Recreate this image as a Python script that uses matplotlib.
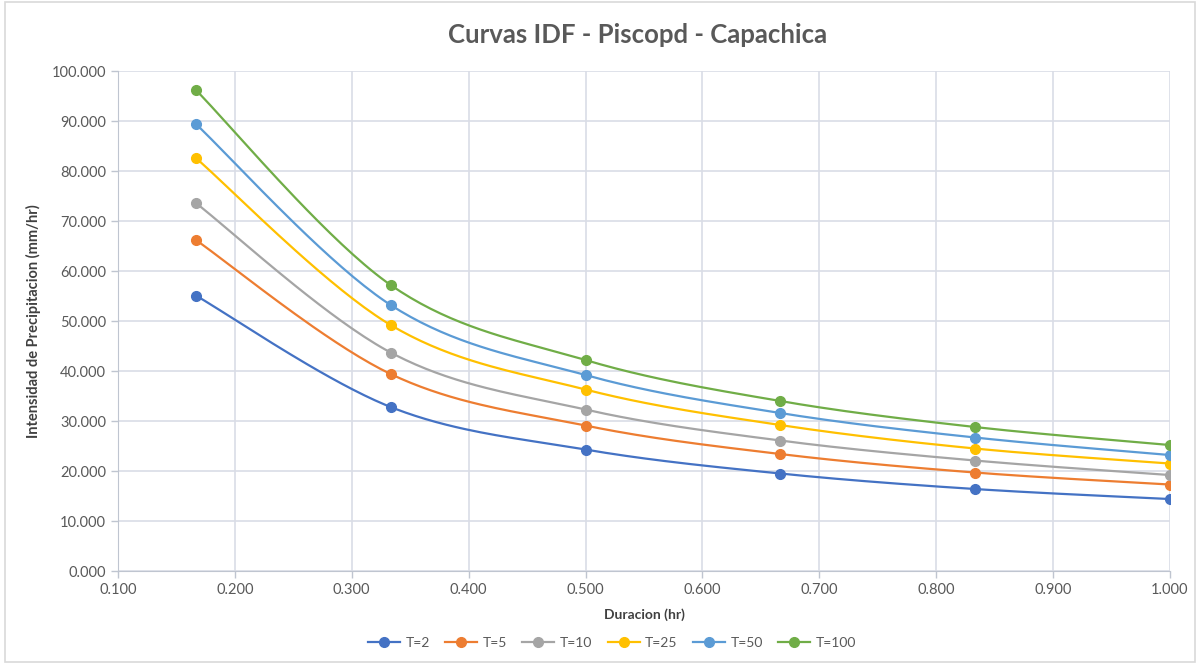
import numpy as np
import matplotlib
matplotlib.use("Agg")
import matplotlib.pyplot as plt
from matplotlib.patches import Rectangle
from matplotlib.ticker import FormatStrFormatter

plt.rcParams['font.family'] = ['Lato', 'DejaVu Sans']

# duration (hr) and intensity (mm/hr) per return period
duracion = [1/6, 2/6, 3/6, 4/6, 5/6, 1.0]
periodos = ["T=2", "T=5", "T=10", "T=25", "T=50", "T=100"]
t2 = [55.1, 32.8, 24.3, 19.5, 16.4, 14.4]
t5 = [66.2, 39.4, 29.1, 23.4, 19.7, 17.3]
t10 = [73.6, 43.7, 32.3, 26.1, 22.1, 19.2]
t25 = [82.6, 49.2, 36.3, 29.2, 24.5, 21.5]
t50 = [89.4, 53.2, 39.2, 31.6, 26.7, 23.2]
t100 = [96.2, 57.2, 42.2, 34.0, 28.8, 25.2]
series = [t2, t5, t10, t25, t50, t100]
colores = ["#4472C4", "#ED7D31", "#A5A5A5", "#FFC000", "#5B9BD5", "#70AD47"]


def smooth(x, y, n=40):
    # excel-like smoothed line: cubic bezier with catmull-rom control points
    x = np.asarray(x, float)
    y = np.asarray(y, float)
    px = np.concatenate([[x[0]], x, [x[-1]]])
    py = np.concatenate([[y[0]], y, [y[-1]]])
    xs, ys = [], []
    t = np.linspace(0, 1, n)
    for i in range(1, len(px) - 2):
        p0 = np.array([px[i], py[i]])
        p3 = np.array([px[i + 1], py[i + 1]])
        p1 = p0 + (np.array([px[i + 1], py[i + 1]]) - np.array([px[i - 1], py[i - 1]])) / 6
        p2 = p3 - (np.array([px[i + 2], py[i + 2]]) - np.array([px[i], py[i]])) / 6
        b = ((1 - t) ** 3)[:, None] * p0 + (3 * (1 - t) ** 2 * t)[:, None] * p1 \
            + (3 * (1 - t) * t ** 2)[:, None] * p2 + (t ** 3)[:, None] * p3
        xs.extend(b[:, 0])
        ys.extend(b[:, 1])
    return xs, ys


fig = plt.figure(figsize=(12, 6.64), dpi=100)
ax = fig.add_axes([0.0983, 0.140, 0.8767, 0.753])

for nombre, vals, c in zip(periodos, series, colores):
    sx, sy = smooth(duracion, vals)
    ax.plot(sx, sy, color=c, lw=1.6, zorder=3)
    ax.plot(duracion, vals, 'o', color=c, ms=7, zorder=4)
    ax.plot([], [], '-o', color=c, lw=1.6, ms=7, label=nombre)

ax.set_xlim(0.1, 1.0)
ax.set_ylim(0, 100)
ax.set_xticks(np.arange(0.1, 1.0001, 0.1))
ax.set_yticks(np.arange(0, 100.1, 10))
ax.xaxis.set_major_formatter(FormatStrFormatter('%.3f'))
ax.yaxis.set_major_formatter(FormatStrFormatter('%.3f'))
ax.grid(True, color="#D9DDE6", lw=1.2)
ax.set_axisbelow(True)
for s in ["top", "right"]:
    ax.spines[s].set_visible(False)
for s in ["left", "bottom"]:
    ax.spines[s].set_color("#BFC5D0")
ax.tick_params(colors="#595959", labelsize=10.5, length=5, width=1)
ax.tick_params(axis='both', color="#BFC5D0")

ax.set_xlabel("Duracion (hr)", fontsize=10, fontweight='bold', color="#404040", labelpad=8)
ax.set_ylabel("Intensidad de Precipitacion (mm/hr)", fontsize=10.5, fontweight='bold',
              color="#404040", labelpad=8)
fig.text(0.531, 0.947, "Curvas IDF - Piscopd - Capachica", ha='center', va='center',
         fontsize=18.5, fontweight='bold', color="#595959")

fig.legend(loc='center', bbox_to_anchor=(0.51, 0.032), ncol=6, frameon=False,
           fontsize=10, labelcolor="#595959", handlelength=2.3, columnspacing=1.1,
           handletextpad=0.4)

fig.patches.append(Rectangle((0.004, 0.003), 0.992, 0.994, transform=fig.transFigure,
                             fill=False, edgecolor="#D9D9D9", lw=1.2))

fig.savefig("out.png", dpi=100)
